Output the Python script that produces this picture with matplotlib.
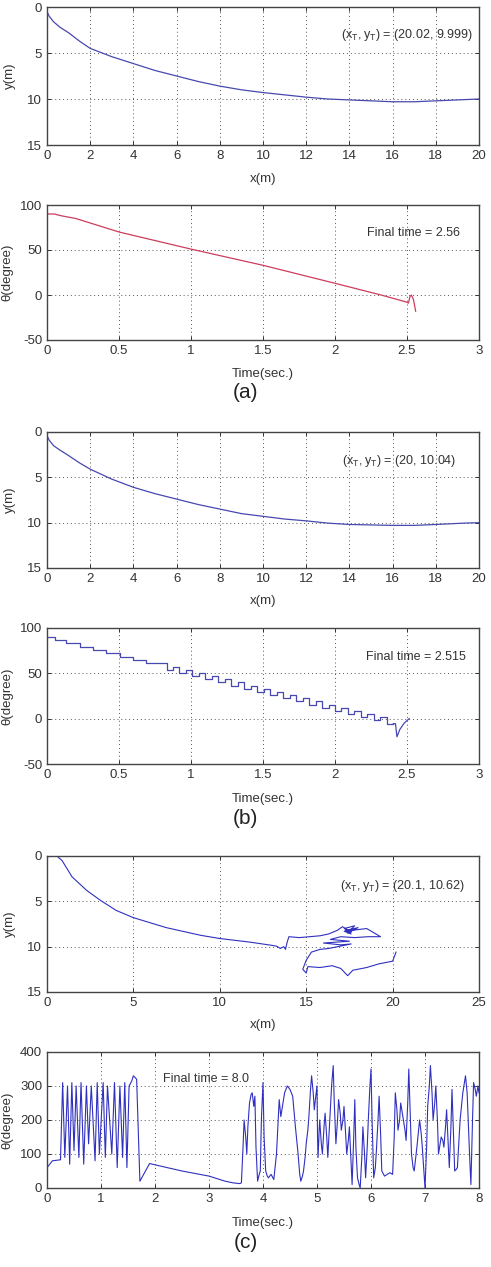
import numpy as np
import matplotlib
matplotlib.use("Agg")
import matplotlib.pyplot as plt

plt.rcParams['font.family'] = ['Liberation Sans', 'DejaVu Sans']
plt.rcParams['mathtext.default'] = 'regular'
plt.rcParams['axes.unicode_minus'] = False

# ---- (a) trajectory ----
xa = [0, 0.1, 0.3, 0.6, 1.0, 1.5, 2, 3, 4, 5, 6, 7, 8, 9, 10, 11, 12, 13, 14, 15, 16, 17, 18, 19, 20]
ya = [0.5, 1.0, 1.6, 2.2, 2.8, 3.7, 4.5, 5.4, 6.15, 6.9, 7.5, 8.1, 8.6, 9.0, 9.3, 9.55, 9.8, 10.0, 10.1, 10.2, 10.3, 10.3, 10.2, 10.1, 10.0]

# ---- (a) heading ----
ta = [0, 0.05, 0.1, 0.2, 0.5, 1.0, 1.5, 2.0, 2.32, 2.5, 2.51, 2.52, 2.53, 2.545, 2.56]
tha = [90, 90, 88, 85, 70, 51, 33, 13, 0, -8, -9, -2, 0, -5, -18]

# ---- (b) trajectory ----
xb = [0, 0.1, 0.3, 0.6, 1.0, 1.5, 2, 3, 4, 5, 6, 7, 8, 9, 10, 11, 12, 13, 14, 15, 16, 17, 17.5, 18, 19.3, 20]
yb = [0.4, 0.9, 1.5, 2.0, 2.6, 3.4, 4.1, 5.2, 6.1, 6.8, 7.4, 8.0, 8.5, 9.0, 9.3, 9.6, 9.8, 10.05, 10.2, 10.25, 10.3, 10.3, 10.25, 10.2, 10.05, 10.0]

# ---- (b) heading, stair part (steps-post) ----
tb_step = [0, 0.055, 0.135, 0.23, 0.32, 0.41, 0.51, 0.60, 0.69,
           0.83, 0.875, 0.92, 0.965, 1.01, 1.055, 1.10, 1.145, 1.19, 1.235,
           1.28, 1.325, 1.37, 1.415, 1.46, 1.505, 1.55, 1.595, 1.64, 1.685,
           1.73, 1.775, 1.82, 1.865, 1.91, 1.955, 2.00, 2.045, 2.09, 2.135,
           2.18, 2.225, 2.27, 2.315, 2.36, 2.405]
thb_step = [90, 87, 83, 79.5, 76, 72, 68.5, 65, 61.5,
            54.0, 57.5, 50.5, 54.0, 47.0, 50.5, 43.5, 47.0, 40.0, 43.5,
            36.5, 40.0, 33.0, 36.5, 29.5, 33.0, 26.0, 29.5, 22.5, 26.0,
            19.0, 22.5, 15.5, 19.0, 12.0, 15.5, 8.5, 12.0, 5.0, 8.5,
            1.5, 5.0, -2.0, 1.5, -5.5, -5.5]
tb_tail = [2.405, 2.42, 2.43, 2.45, 2.48, 2.515]
thb_tail = [-5.5, -5.5, -20, -12, -5, 0]

# ---- (c) trajectory ----
xc = [0, 0.3, 0.6, 0.87, 1.16, 1.45, 2.3, 3.1, 4.0, 5.0,
      6.9, 8.9, 10.0, 11.75, 13.0, 13.3, 13.5, 13.7, 13.8, 13.9,
      14.0, 14.6, 15.2, 15.8, 16.3, 16.8, 17.1, 17.6, 17.2, 17.8,
      17.4, 18.0, 17.3, 17.6, 17.2, 18.5, 19.3, 18.6, 17.8, 17.0,
      16.4, 17.5, 16.0, 17.0, 17.6, 16.3, 15.8, 15.3, 15.0, 14.8,
      15.0, 15.1, 15.8, 16.5, 17.0, 17.4, 17.7, 18.5, 19.2, 20.0,
      20.1, 20.2]
yc = [0.1, 0.0, 0.05, 0.5, 1.4, 2.3, 3.8, 4.9, 6.0, 6.8,
      7.9, 8.75, 9.1, 9.5, 9.85, 9.95, 10.2, 10.0, 10.3, 9.5,
      8.9, 9.0, 8.9, 8.8, 8.6, 8.2, 7.8, 8.4, 8.0, 7.7,
      8.5, 7.9, 8.2, 8.6, 8.3, 8.0, 8.9, 8.9, 9.0, 8.9,
      9.2, 9.4, 9.6, 9.8, 9.7, 10.2, 10.3, 10.6, 11.5, 12.5,
      12.9, 12.2, 12.3, 12.1, 12.4, 13.2, 12.6, 12.3, 11.9, 11.6,
      11.1, 10.6]

# ---- (c) heading ----
tc = [0, 0.1, 0.25, 0.29, 0.33, 0.38, 0.42, 0.46, 0.5, 0.54,
      0.59, 0.63, 0.68, 0.73, 0.77, 0.82, 0.89, 0.93, 0.97, 1.04,
      1.08, 1.12, 1.2, 1.25, 1.3, 1.35, 1.4, 1.44, 1.48, 1.52,
      1.57, 1.6, 1.66, 1.72, 1.9, 1.95, 2.5, 3.0, 3.3, 3.45,
      3.57,
      3.6, 3.63, 3.65, 3.68, 3.7, 3.72, 3.75, 3.78, 3.8, 3.83,
      3.85, 3.87, 3.9, 3.93, 3.95, 3.97, 4.0, 4.02, 4.05, 4.08,
      4.1, 4.15, 4.2, 4.25, 4.28, 4.3, 4.33, 4.35, 4.4, 4.45,
      4.5, 4.55, 4.6, 4.65, 4.68, 4.7, 4.73, 4.75, 4.78, 4.8,
      4.83, 4.85, 4.88, 4.9, 4.93, 4.95, 4.97, 5.0, 5.01, 5.02,
      5.04, 5.05, 5.08, 5.1, 5.13, 5.15, 5.18, 5.2, 5.23, 5.27,
      5.3, 5.32, 5.35, 5.38, 5.4, 5.43, 5.45, 5.48, 5.5, 5.53,
      5.55, 5.58, 5.6, 5.63, 5.65, 5.68, 5.7, 5.72, 5.75, 5.78,
      5.8, 5.83, 5.85, 5.88, 5.9, 5.93, 5.95, 5.98, 6.0, 6.02,
      6.05, 6.08, 6.1, 6.13, 6.15, 6.18, 6.2, 6.25, 6.3, 6.35,
      6.4, 6.43, 6.45, 6.48, 6.5, 6.53, 6.55, 6.58, 6.6, 6.63,
      6.65, 6.68, 6.7, 6.73, 6.75, 6.78, 6.8, 6.85, 6.9, 6.93,
      6.95, 6.98, 7.0, 7.03, 7.05, 7.08, 7.1, 7.13, 7.15, 7.18,
      7.2, 7.23, 7.25, 7.28, 7.3, 7.33, 7.35, 7.38, 7.4, 7.43,
      7.45, 7.48, 7.5, 7.53, 7.55, 7.58, 7.6, 7.65, 7.7, 7.73,
      7.75, 7.78, 7.8, 7.83, 7.85, 7.88, 7.9, 7.93, 7.95, 7.98,
      8.0]
thc = [60, 80, 83, 310, 90, 300, 70, 310, 110, 300,
       90, 310, 70, 300, 130, 300, 80, 310, 100, 310,
       90, 300, 100, 310, 60, 300, 90, 310, 60, 300,
       315, 330, 320, 20, 72, 70, 50, 35, 20, 15,
       13,
       15, 120, 200, 150, 100, 180, 250, 275, 280, 240,
       270, 120, 20, 40, 50, 200, 310, 150, 50, 35,
       30, 40, 25, 100, 200, 260, 210, 230, 280, 300,
       290, 270, 180, 100, 40, 20, 35, 50, 90, 130,
       170, 210, 290, 330, 280, 230, 260, 300, 150, 90,
       170, 200, 130, 100, 180, 220, 150, 90, 180, 300,
       360, 250, 130, 200, 260, 220, 170, 200, 240, 160,
       100, 140, 180, 80, 10, 150, 260, 120, 30, 10,
       0, 90, 180, 100, 30, 120, 200, 300, 350, 200,
       30, 60, 110, 200, 270, 150, 50, 35, 40, 45,
       40, 150, 280, 230, 170, 200, 250, 220, 200, 170,
       140, 250, 350, 200, 100, 60, 50, 120, 200, 160,
       120, 50, 0, 120, 240, 300, 360, 280, 200, 250,
       300, 200, 100, 130, 150, 140, 120, 180, 230, 130,
       60, 180, 290, 150, 50, 55, 60, 200, 280, 310,
       330, 280, 200, 80, 10, 200, 310, 290, 270, 300,
       280]

blue = '#4848b0'
blue_c = '#3030c0'
red = '#cc3c5c'
txt_col = '#333333'

W, H = 491, 1267
fig = plt.figure(figsize=(W / 100, H / 100), dpi=100)

left, right = 47, 479
boxes = [(7, 145), (205, 340), (432, 568), (628, 764), (856, 992), (1052, 1188)]
axes = []
for top, bot in boxes:
    ax = fig.add_axes([left / W, 1 - bot / H, (right - left) / W, (bot - top) / H])
    axes.append(ax)


def style(ax):
    ax.grid(True, linestyle=(0, (1, 3)), color='#555555', linewidth=0.7)
    ax.tick_params(direction='in', top=True, right=True, length=3,
                   labelsize=9.5, colors=txt_col, width=0.7)
    for s in ax.spines.values():
        s.set_color('#444444')
        s.set_linewidth(1.0)


def traj_axes(ax, xmax, xstep, txt):
    ax.set_xlim(0, xmax)
    ax.set_ylim(15, 0)
    ax.set_xticks(np.arange(0, xmax + 0.1, xstep))
    ax.set_yticks([0, 5, 10, 15])
    ax.set_xlabel('x(m)', fontsize=9.5, color=txt_col)
    ax.set_ylabel('y(m)', fontsize=9.5, color=txt_col)
    ax.xaxis.set_label_coords(0.5, -0.2)
    ax.yaxis.set_label_coords(-0.072, 0.5)
    ax.text(txt[0], txt[1], txt[2], transform=ax.transAxes, ha='right',
            va='center', fontsize=9, color=txt_col)
    style(ax)


def theta_axes(ax):
    ax.set_xlabel('Time(sec.)', fontsize=9.5, color=txt_col)
    ax.set_ylabel('θ(degree)', fontsize=9.5, color=txt_col)
    ax.xaxis.set_label_coords(0.5, -0.21)
    ax.yaxis.set_label_coords(-0.078, 0.5)
    style(ax)


# (a)
ax = axes[0]
ax.plot(xa, ya, color=blue, lw=0.9)
traj_axes(ax, 20, 2, (0.986, 0.80, '$(x_T, y_T)$ = (20.02, 9.999)'))

ax = axes[1]
ax.plot(ta, tha, color=red, lw=0.9)
ax.set_xlim(0, 3)
ax.set_ylim(-50, 100)
ax.set_xticks([0, 0.5, 1, 1.5, 2, 2.5, 3])
ax.set_xticklabels(['0', '0.5', '1', '1.5', '2', '2.5', '3'])
ax.set_yticks([-50, 0, 50, 100])
ax.text(0.955, 0.79, 'Final time = 2.56', transform=ax.transAxes, ha='right',
        va='center', fontsize=9, color=txt_col)
theta_axes(ax)

# (b)
ax = axes[2]
ax.plot(xb, yb, color=blue, lw=0.9)
traj_axes(ax, 20, 2, (0.947, 0.79, '$(x_T, y_T)$ = (20, 10.04)'))

ax = axes[3]
ax.plot(tb_step, thb_step, color=blue, lw=0.9, drawstyle='steps-post')
ax.plot(tb_tail, thb_tail, color=blue, lw=0.9)
ax.set_xlim(0, 3)
ax.set_ylim(-50, 100)
ax.set_xticks([0, 0.5, 1, 1.5, 2, 2.5, 3])
ax.set_xticklabels(['0', '0.5', '1', '1.5', '2', '2.5', '3'])
ax.set_yticks([-50, 0, 50, 100])
ax.text(0.97, 0.79, 'Final time = 2.515', transform=ax.transAxes, ha='right',
        va='center', fontsize=9, color=txt_col)
theta_axes(ax)

# (c)
ax = axes[4]
ax.plot(xc, yc, color=blue_c, lw=0.8)
traj_axes(ax, 25, 5, (0.968, 0.78, '$(x_T, y_T)$ = (20.1, 10.62)'))

ax = axes[5]
ax.plot(tc, thc, color=blue_c, lw=0.8)
ax.set_xlim(0, 8)
ax.set_ylim(0, 400)
ax.set_xticks(range(0, 9))
ax.set_yticks([0, 100, 200, 300, 400])
ax.text(0.268, 0.80, 'Final time = 8.0', transform=ax.transAxes, ha='left',
        va='center', fontsize=9, color=txt_col)
theta_axes(ax)

for lab, yp in [('(a)', 393), ('(b)', 818), ('(c)', 1243)]:
    fig.text(0.5, 1 - yp / H, lab, ha='center', va='center', fontsize=15, color='#222222')

fig.savefig('out.png', dpi=100)
